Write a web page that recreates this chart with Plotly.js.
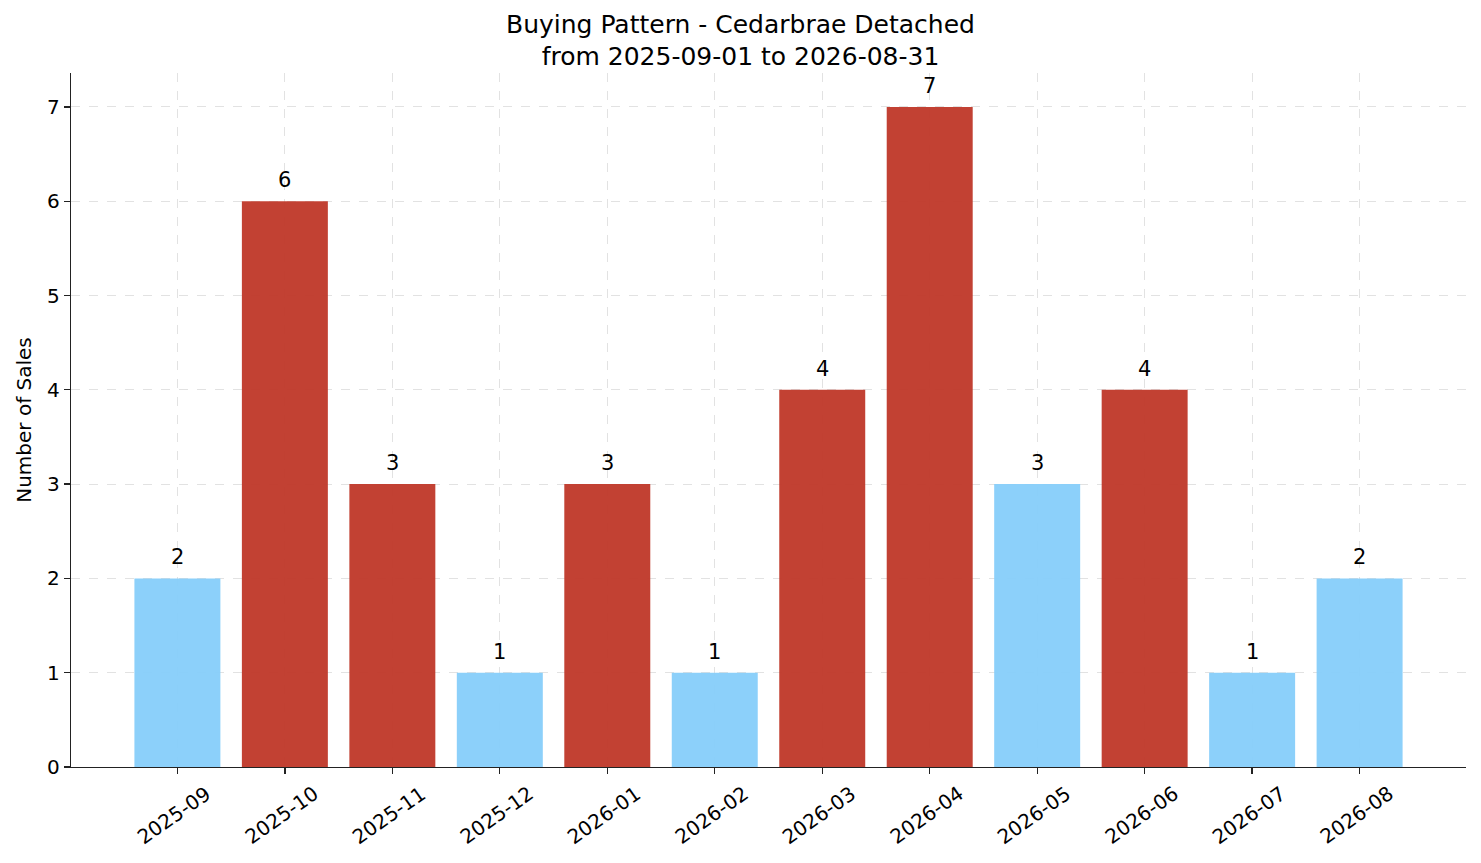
<!DOCTYPE html>
<html>
<head>
<meta charset="utf-8">
<script src="https://cdn.plot.ly/plotly-3.0.1.min.js"></script>
<style>
  html, body { margin: 0; padding: 0; background: #fff; }
  #chart { width: 1481px; height: 863px; }
</style>
</head>
<body>
<div id="chart"></div>
<script>
// months shown on the x axis
var months = ['2025-09', '2025-10', '2025-11', '2025-12', '2026-01', '2026-02',
              '2026-03', '2026-04', '2026-05', '2026-06', '2026-07', '2026-08'];
// number of sales per month
var sales = [2, 6, 3, 1, 3, 1, 4, 7, 3, 4, 1, 2];
// which bars are highlighted (red) vs normal (blue)
var hot = [false, true, true, false, true, false, true, true, false, true, false, false];
var yTicks = [0, 1, 2, 3, 4, 5, 6, 7];

var RED = '#c0392b';
var BLUE = '#87cefa';
var FONT = 'DejaVu Sans';

var xs = months.map(function (m, i) { return i; });

var trace = {
  type: 'bar',
  x: xs,
  y: sales,
  width: 0.8,
  marker: {
    color: hot.map(function (h) { return h ? RED : BLUE; }),
    opacity: 0.96,
    line: { width: 0 }
  },
  hoverinfo: 'x+y'
};

// value labels above each bar
var annots = sales.map(function (v, i) {
  return {
    x: xs[i], y: v, xref: 'x', yref: 'y',
    text: String(v), showarrow: false,
    yanchor: 'bottom', yshift: 7,
    font: { family: FONT, size: 21, color: '#000' }
  };
});

// rotated month labels, centred under each tick (matplotlib style)
months.forEach(function (m, i) {
  annots.push({
    x: xs[i], y: 0, xref: 'x', yref: 'y',
    text: m, showarrow: false, textangle: -35,
    xanchor: 'center', yanchor: 'middle',
    xshift: -3, yshift: -48,
    font: { family: FONT, size: 20, color: '#000' }
  });
});

var gridStyle = {
  showgrid: true,
  gridcolor: 'rgba(175,175,175,0.45)',
  griddash: 'dash',
  gridwidth: 0.8,
  zeroline: false,
  showline: true,
  linecolor: '#222',
  linewidth: 1.3,
  ticks: 'outside',
  ticklen: 6,
  tickwidth: 1.3,
  tickcolor: '#222',
  tickfont: { family: FONT, size: 20, color: '#000' }
};

var layout = {
  width: 1481,
  height: 863,
  paper_bgcolor: '#fff',
  plot_bgcolor: '#fff',
  font: { family: FONT, size: 20, color: '#000' },
  margin: { l: 71, r: 15, t: 73, b: 96 },
  showlegend: false,
  annotations: annots,
  title: {
    text: 'Buying Pattern - Cedarbrae Detached<br>from 2025-09-01 to 2026-08-31',
    font: { family: FONT, size: 25, color: '#000' },
    x: 0.5, xanchor: 'center',
    y: 0.962, yanchor: 'middle'
  },
  xaxis: Object.assign({}, gridStyle, {
    range: [-0.99, 11.99],
    tickmode: 'array',
    tickvals: xs,
    showticklabels: false
  }),
  yaxis: Object.assign({}, gridStyle, {
    range: [0, 7.36],
    tickmode: 'array',
    tickvals: yTicks,
    title: { text: 'Number of Sales', font: { family: FONT, size: 20 }, standoff: 10 }
  })
};

Plotly.newPlot('chart', [trace], layout, { displayModeBar: false, staticPlot: true });
</script>
</body>
</html>
